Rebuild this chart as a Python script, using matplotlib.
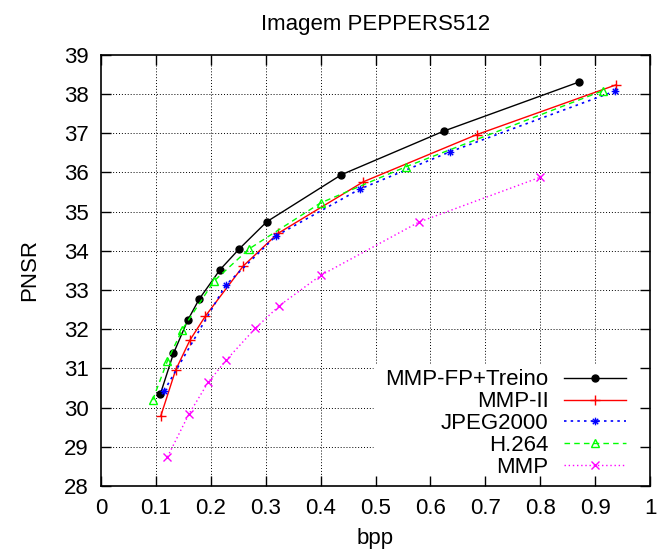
import matplotlib
matplotlib.use("Agg")
import matplotlib.pyplot as plt
from matplotlib.path import Path

plt.rcParams['font.family'] = ['Liberation Sans', 'DejaVu Sans']

# ---- data ----
fp_x = [0.108, 0.132, 0.158, 0.179, 0.217, 0.252, 0.302, 0.438, 0.624, 0.870]
fp_y = [30.34, 31.38, 32.23, 32.77, 33.52, 34.05, 34.74, 35.94, 37.05, 38.30]

mmp2_x = [0.109, 0.136, 0.162, 0.190, 0.259, 0.322, 0.478, 0.684, 0.938]
mmp2_y = [29.79, 30.96, 31.72, 32.33, 33.61, 34.44, 35.76, 36.96, 38.23]

jp2k_x = [0.115, 0.227, 0.319, 0.471, 0.635, 0.936]
jp2k_y = [30.43, 33.12, 34.38, 35.57, 36.52, 38.07]

h264_x = [0.094, 0.121, 0.148, 0.206, 0.270, 0.400, 0.555, 0.914]
h264_y = [30.19, 31.19, 31.99, 33.23, 34.05, 35.22, 36.14, 38.08]

mmp_x = [0.121, 0.160, 0.195, 0.228, 0.281, 0.325, 0.400, 0.579, 0.799]
mmp_y = [28.74, 29.83, 30.64, 31.21, 32.02, 32.60, 33.37, 34.73, 35.87]

xticks = [0, 0.1, 0.2, 0.3, 0.4, 0.5, 0.6, 0.7, 0.8, 0.9, 1]
xticklabels = ['0', '0.1', '0.2', '0.3', '0.4', '0.5', '0.6', '0.7', '0.8', '0.9', '1']
yticks = [28, 29, 30, 31, 32, 33, 34, 35, 36, 37, 38, 39]

labels = ['MMP-FP+Treino', 'MMP-II', 'JPEG2000', 'H.264', 'MMP']
title = 'Imagem PEPPERS512'
xlabel = 'bpp'
ylabel = 'PNSR'

FS = 16

fig = plt.figure(figsize=(6.57, 5.55), dpi=100)
ax = fig.add_axes([101/657, 1-486/555, (650-101)/657, (486-54.7)/555])
ax.set_xlim(0, 1)
ax.set_ylim(28, 39)

# asterisk marker (gnuplot point type 3)
s = 0.7071
ast = Path([(-1, 0), (1, 0), (0, -1), (0, 1), (-s, -s), (s, s), (-s, s), (s, -s)],
           [Path.MOVETO, Path.LINETO] * 4)

# legend region (grid hidden there)
leg_x0, leg_y0 = 0.495, 31.13

# manual grid
for yv in yticks[1:-1]:
    xe = leg_x0 if yv < leg_y0 else 1
    ax.plot([0, xe], [yv, yv], color='black', lw=0.7, ls=(0, (1, 2)), zorder=0.5)
for xv in xticks[1:-1]:
    ys = leg_y0 if xv > leg_x0 else 28
    ax.plot([xv, xv], [ys, 39], color='black', lw=0.7, ls=(0, (1, 2)), zorder=0.5)

l1, = ax.plot(fp_x, fp_y, color='black', lw=1.0, marker='o', ms=5, mfc='black', mec='black')
l2, = ax.plot(mmp2_x, mmp2_y, color='red', lw=1.0, marker='+', ms=6.5, mew=1.0)
l3, = ax.plot(jp2k_x, jp2k_y, color='blue', lw=1.2, ls=(0, (1.5, 2.5)), marker=ast, ms=5.5,
              mfc='none', mec='blue', mew=1.0)
l4, = ax.plot(h264_x, h264_y, color='#00ff00', lw=1.0, ls=(0, (4, 3)), marker='^', ms=5.5,
              mfc='none', mec='#00ff00', mew=1.0)
l5, = ax.plot(mmp_x, mmp_y, color='#ff00ff', lw=1.0, ls=(0, (1, 2)), marker='x', ms=5.5, mew=1.0)

ax.set_xticks(xticks)
ax.set_xticklabels(xticklabels)
ax.set_yticks(yticks)
ax.tick_params(direction='in', length=7, width=1.0, top=True, right=True,
               labelsize=FS, pad=9)
for sp in ax.spines.values():
    sp.set_linewidth(1.2)

ax.set_title(title, fontsize=FS, pad=18)
ax.set_xlabel(xlabel, fontsize=FS, labelpad=6)
ax.set_ylabel(ylabel, fontsize=FS, labelpad=17)

leg = ax.legend([l1, l2, l3, l4, l5], labels, loc='lower right',
                bbox_to_anchor=(623/657 + 0.005, 1 - 478/555),
                bbox_transform=fig.transFigure,
                markerfirst=False, frameon=False, fontsize=FS,
                handlelength=2.8, handletextpad=0.7, labelspacing=0.04,
                borderpad=0, borderaxespad=0)

fig.savefig('out.png', dpi=100)
